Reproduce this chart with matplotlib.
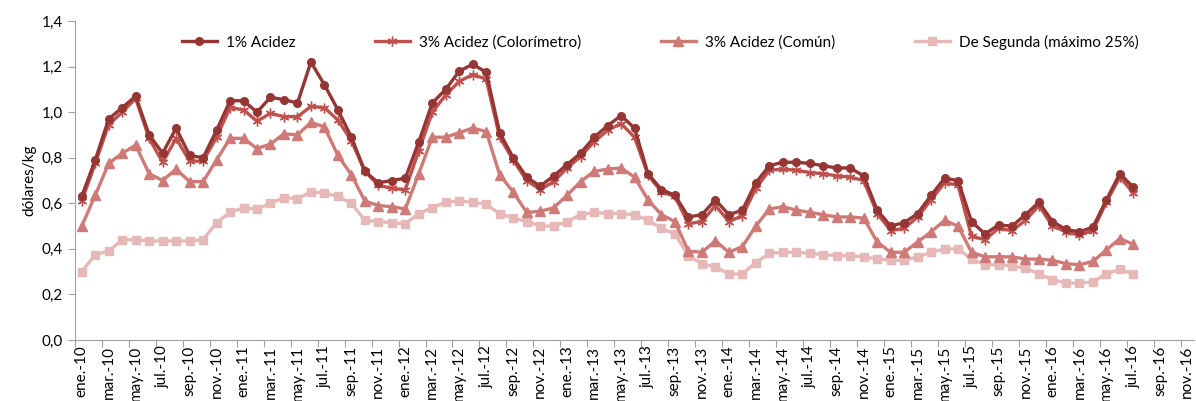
import numpy as np
import matplotlib.pyplot as plt

plt.rcParams['font.family'] = ['Lato', 'DejaVu Sans']

# monthly series, ene-10 .. jul-16 (dólares/kg)
acidez_1 = [0.63, 0.79, 0.97, 1.02, 1.07, 0.90, 0.82, 0.93, 0.81, 0.80, 0.92, 1.05,
            1.05, 1.00, 1.065, 1.055, 1.04, 1.22, 1.12, 1.01, 0.89, 0.74, 0.69, 0.70,
            0.71, 0.87, 1.04, 1.10, 1.18, 1.21, 1.175, 0.91, 0.80, 0.715, 0.675, 0.72,
            0.77, 0.82, 0.89, 0.94, 0.985, 0.93, 0.73, 0.66, 0.635, 0.54, 0.55, 0.615,
            0.55, 0.57, 0.69, 0.765, 0.78, 0.78, 0.775, 0.765, 0.755, 0.755, 0.72, 0.57,
            0.50, 0.515, 0.555, 0.635, 0.71, 0.70, 0.52, 0.465, 0.505, 0.50, 0.55, 0.605,
            0.52, 0.485, 0.475, 0.495, 0.615, 0.73, 0.67]
acidez_3_color = [0.61, 0.775, 0.945, 1.00, 1.06, 0.885, 0.78, 0.885, 0.785, 0.785, 0.89, 1.02,
                  1.01, 0.96, 0.995, 0.98, 0.98, 1.025, 1.02, 0.965, 0.875, 0.74, 0.68, 0.665,
                  0.66, 0.83, 1.00, 1.075, 1.135, 1.165, 1.145, 0.89, 0.79, 0.70, 0.66, 0.695,
                  0.755, 0.805, 0.87, 0.92, 0.95, 0.89, 0.725, 0.65, 0.63, 0.51, 0.52, 0.59,
                  0.52, 0.545, 0.665, 0.745, 0.75, 0.745, 0.735, 0.73, 0.72, 0.715, 0.70, 0.555,
                  0.48, 0.49, 0.54, 0.615, 0.69, 0.68, 0.455, 0.44, 0.49, 0.48, 0.525, 0.59,
                  0.50, 0.475, 0.46, 0.48, 0.605, 0.715, 0.645]
acidez_3_comun = [0.50, 0.635, 0.775, 0.82, 0.855, 0.73, 0.70, 0.75, 0.695, 0.695, 0.79, 0.885,
                  0.885, 0.84, 0.86, 0.905, 0.90, 0.955, 0.935, 0.81, 0.725, 0.61, 0.59, 0.585,
                  0.575, 0.73, 0.89, 0.89, 0.91, 0.93, 0.915, 0.725, 0.65, 0.56, 0.565, 0.58,
                  0.635, 0.695, 0.74, 0.75, 0.755, 0.715, 0.615, 0.55, 0.52, 0.39, 0.385, 0.435,
                  0.385, 0.41, 0.50, 0.575, 0.585, 0.57, 0.56, 0.55, 0.54, 0.54, 0.535, 0.43,
                  0.385, 0.385, 0.43, 0.475, 0.525, 0.50, 0.385, 0.365, 0.365, 0.365, 0.355, 0.355,
                  0.35, 0.335, 0.33, 0.345, 0.395, 0.445, 0.42]
segunda = [0.30, 0.375, 0.39, 0.44, 0.44, 0.435, 0.435, 0.435, 0.435, 0.44, 0.515, 0.56,
           0.58, 0.575, 0.60, 0.625, 0.62, 0.65, 0.645, 0.63, 0.60, 0.525, 0.52, 0.515,
           0.51, 0.555, 0.58, 0.605, 0.61, 0.605, 0.595, 0.555, 0.535, 0.52, 0.50, 0.50,
           0.52, 0.55, 0.56, 0.555, 0.555, 0.55, 0.525, 0.49, 0.465, 0.37, 0.335, 0.32,
           0.29, 0.29, 0.34, 0.38, 0.385, 0.385, 0.38, 0.375, 0.37, 0.37, 0.365, 0.355,
           0.35, 0.35, 0.365, 0.385, 0.40, 0.40, 0.355, 0.33, 0.33, 0.325, 0.315, 0.29,
           0.265, 0.25, 0.25, 0.255, 0.29, 0.31, 0.29]

meses = ['ene.', 'feb.', 'mar.', 'abr.', 'may.', 'jun.',
         'jul.', 'ago.', 'sep.', 'oct.', 'nov.', 'dic.']
anios = ['10', '11', '12', '13', '14', '15', '16']
etiquetas = [m + '-' + a for a in anios for m in meses]

x = np.arange(len(acidez_1))

fig = plt.figure(figsize=(11.96, 4.01), dpi=100)
ax = fig.add_axes([75 / 1196, 61 / 401, 1119 / 1196, 319 / 401])

ax.plot(x, segunda, color='#e6b9b8', lw=2.4, marker='s', ms=6,
        label='De Segunda (máximo 25%)', zorder=2)
ax.plot(x, acidez_3_comun, color='#d07a78', lw=2.4, marker='^', ms=6.5,
        label='3% Acidez (Común)', zorder=3)
ax.plot(x, acidez_3_color, color='#c0504d', lw=2.4, marker=(6, 2, 0), ms=7, mew=1,
        label='3% Acidez (Colorímetro)', zorder=4)
ax.plot(x, acidez_1, color='#963634', lw=2.4, marker='o', ms=5.5,
        label='1% Acidez', zorder=5)

ax.set_ylim(0, 1.4)
ax.set_yticks(np.arange(0, 1.41, 0.2))
ax.set_yticklabels([('%.1f' % v).replace('.', ',') for v in np.arange(0, 1.41, 0.2)])
ax.set_ylabel('dólares/kg', fontsize=11)

ax.set_xlim(-0.5, 82.5)
ax.set_xticks(np.arange(-0.5, 83, 2))
ax.set_xticklabels([])
ax.set_xticks(np.arange(0, 83, 2), minor=True)
ax.set_xticklabels(etiquetas[0:83:2], minor=True, rotation=90, fontsize=11)
ax.tick_params(axis='x', which='minor', length=0, pad=4)
ax.tick_params(axis='x', which='major', length=5, color='#a0a0a0')
ax.tick_params(axis='y', length=5, color='#a0a0a0', labelsize=11)

for s in ['top', 'right']:
    ax.spines[s].set_visible(False)
for s in ['left', 'bottom']:
    ax.spines[s].set_color('#a0a0a0')

h, l = ax.get_legend_handles_labels()
ax.legend(h[::-1], l[::-1], loc='upper center', bbox_to_anchor=(0.523, 1.0),
          ncol=4, frameon=False, fontsize=11, handlelength=2.3,
          handletextpad=0.6, columnspacing=5.2)

fig.savefig('out.png', dpi=100)
